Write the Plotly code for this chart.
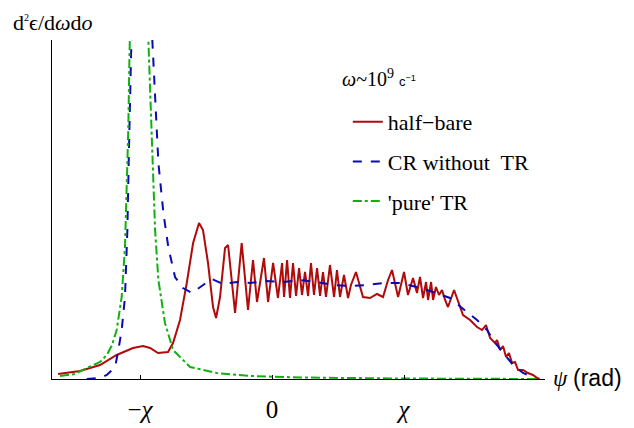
import plotly.graph_objects as go

# psi in units of chi, intensity in arbitrary units
bare_x = [-1.621, -1.455, -1.303, -1.177, -1.053, -0.977, -0.924, -0.864, -0.788, -0.750,
          -0.697, -0.646, -0.598, -0.553, -0.523, -0.485, -0.447, -0.424, -0.394, -0.356,
          -0.333, -0.280, -0.230, -0.182, -0.144, -0.114, -0.061, -0.030, 0.008, 0.045,
          0.076, 0.091, 0.114, 0.136, 0.159, 0.182, 0.205, 0.227, 0.250, 0.273,
          0.295, 0.318, 0.341, 0.364, 0.386, 0.409, 0.439, 0.470, 0.492, 0.515,
          0.545, 0.576, 0.598, 0.636, 0.689, 0.742, 0.795, 0.841, 0.879, 0.909,
          0.955, 1.000, 1.030, 1.068, 1.098, 1.121, 1.144, 1.167, 1.182, 1.205,
          1.220, 1.242, 1.265, 1.288, 1.311, 1.333, 1.379, 1.424, 1.447, 1.500,
          1.553, 1.591, 1.621, 1.652, 1.689, 1.705, 1.727, 1.750, 1.773, 1.795,
          1.818, 1.841, 1.864, 1.902, 1.939, 1.977, 2.008, 2.030]
bare_y = [0.05, 0.08, 0.14, 0.24, 0.31, 0.33, 0.31, 0.26, 0.27, 0.36,
          0.59, 0.96, 1.36, 1.56, 1.49, 1.16, 0.72, 0.61, 0.82, 1.31,
          1.34, 0.66, 1.36, 0.69, 1.19, 0.77, 1.21, 0.77, 1.16, 0.81,
          1.16, 0.82, 1.19, 0.81, 1.16, 0.83, 1.11, 0.84, 1.07, 0.83,
          1.16, 0.84, 1.11, 0.83, 1.07, 0.82, 1.14, 0.82, 1.09, 0.82,
          1.04, 0.81, 0.94, 1.07, 0.82, 0.81, 0.85, 0.82, 0.99, 1.09,
          0.82, 1.07, 0.84, 1.01, 0.86, 1.02, 0.81, 0.97, 0.79, 0.97,
          0.79, 0.92, 0.84, 0.89, 0.79, 0.72, 0.89, 0.72, 0.64, 0.59,
          0.52, 0.49, 0.54, 0.41, 0.36, 0.39, 0.29, 0.33, 0.22, 0.26,
          0.16, 0.17, 0.09, 0.09, 0.06, 0.04, 0.01, 0.0]

cr_x = [-1.404, -1.303, -1.252, -1.189, -1.164, -1.139, -1.114, -1.096, -1.086, -1.078,
        -1.070, -0.992, -0.907, -0.886, -0.861, -0.823, -0.786, -0.735, -0.674, -0.608,
        -0.545, -0.457, -0.371, -0.267, -0.167, -0.040, 0.083, 0.212, 0.339, 0.462,
        0.591, 0.717, 0.841, 0.970, 1.096, 1.220, 1.348, 1.409, 1.477, 1.553,
        1.629, 1.674, 1.750, 1.826, 1.902, 1.992]
cr_y = [0.00, 0.01, 0.04, 0.12, 0.29, 0.49, 0.82, 1.49, 2.16, 2.82,
        3.39, 7.8, 3.39, 2.82, 2.16, 1.66, 1.32, 1.02, 0.91, 0.86,
        0.92, 1.00, 0.95, 0.97, 0.96, 0.98, 0.97, 0.99, 0.97, 0.94,
        0.93, 0.94, 0.96, 0.96, 0.92, 0.87, 0.81, 0.74, 0.67, 0.59,
        0.49, 0.39, 0.26, 0.14, 0.06, 0.01]

tr_x = [-1.606, -1.492, -1.404, -1.303, -1.252, -1.212, -1.177, -1.139, -1.114, -1.101,
        -1.089, -1.081, -1.076, -1.008, -0.937, -0.924, -0.904, -0.886, -0.861, -0.811,
        -0.750, -0.621, -0.419, -0.167, 0.212, 0.970, 2.030]
tr_y = [0.03, 0.05, 0.11, 0.17, 0.24, 0.34, 0.49, 0.82, 1.32, 1.82,
        2.49, 3.16, 3.39, 7.8, 3.39, 2.82, 2.16, 1.49, 0.99, 0.56,
        0.29, 0.12, 0.06, 0.03, 0.015, 0.005, 0.0]

tick_vals = [-1, 0, 1]
tick_text = ['\u2212<i>\u03c7</i>', '0', '<i>\u03c7</i>']

serif = 'Liberation Serif'
fig = go.Figure()
fig.add_scatter(x=bare_x, y=bare_y, mode='lines', name='half\u2212bare', legendgroup='a',
                line=dict(color='#b00a0a', width=2))
fig.add_scatter(x=cr_x, y=cr_y, mode='lines', name='CR without  TR', legendgroup='b',
                line=dict(color='#0a0ab4', width=2, dash='dash'))
fig.add_scatter(x=tr_x, y=tr_y, mode='lines', name="'pure' TR", legendgroup='c',
                line=dict(color='#10b010', width=2, dash='dashdot'))

# page body has an 8px margin, so the figure is 8px smaller than the window
fig.update_layout(
    width=626, height=420,
    margin=dict(l=44, r=89, t=32, b=49),
    plot_bgcolor='white', paper_bgcolor='white',
    font=dict(family=serif, size=18, color='black'),
    showlegend=True,
    legend=dict(x=0.6, y=0.82, xanchor='left', yanchor='top',
                traceorder='grouped', tracegroupgap=8, bgcolor='rgba(0,0,0,0)',
                font=dict(size=22, family=serif)),
    xaxis=dict(range=[-1.667, 2.068], showline=True, linecolor='black', linewidth=1,
               showgrid=False, zeroline=False, ticks='inside', ticklen=4, tickcolor='black',
               tickvals=tick_vals, ticktext=tick_text, ticklabelstandoff=8,
               tickfont=dict(size=25, family=serif), automargin=False),
    yaxis=dict(range=[0, 3.39], showline=True, linecolor='black', linewidth=1,
               showgrid=False, zeroline=False, showticklabels=False, ticks='', automargin=False),
)
fig.add_annotation(xref='paper', yref='paper', x=(340 - 52) / 493, y=(379 - 78) / 339,
                   xanchor='left', yanchor='middle',
                   text='<i>\u03c9</i>~10<sup>9</sup> <span style="font-family:Liberation Sans;font-size:13px">c<sup>\u22121</sup></span>',
                   showarrow=False, font=dict(size=20, family=serif))
fig.add_annotation(xref='paper', yref='paper', x=1.012, y=0.003, xanchor='left', yanchor='middle',
                   text='<i>\u03c8</i> <span style="font-family:Liberation Sans">(rad)</span>',
                   showarrow=False, font=dict(size=23, family=serif))
fig.add_annotation(xref='paper', yref='paper', x=-0.084, y=1.052, xanchor='left', yanchor='middle',
                   text='d<sup><span style="font-size:10px">2</span></sup>\u03f5/d<i>\u03c9</i>d<i>o</i>',
                   showarrow=False, font=dict(size=22, family=serif))
fig.write_html('out.html')
